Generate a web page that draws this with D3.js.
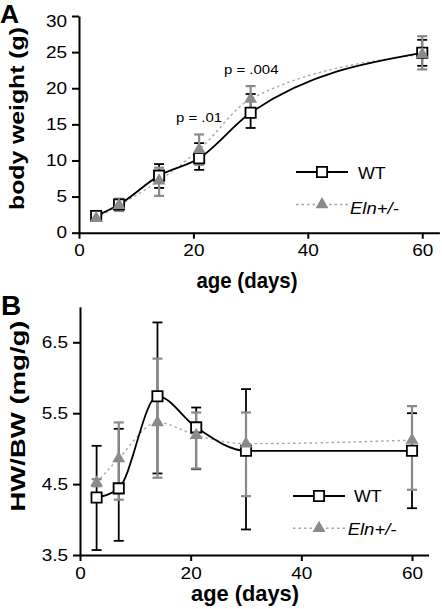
<!DOCTYPE html>
<html><head><meta charset="utf-8">
<script src="https://cdn.jsdelivr.net/npm/d3@7"></script>
<style>body{margin:0;background:#fff}svg{display:block}</style>
</head><body>
<svg id="c" width="442" height="609"></svg>
<script>
// ---------- data ----------
const days = [3, 7, 14, 21, 30, 60];
const xTicks = [0, 20, 40, 60];

const bwWT     = [2.3, 3.9, 7.9, 10.3, 16.6, 24.9];
const bwWTLo   = [2.0, 3.5, 6.2, 8.7, 14.5, 23.1];
const bwWTHi   = [2.6, 4.3, 9.5, 12.4, 19.2, 26.7];
const bwEln    = [2.0, 3.8, 7.2, 11.5, 18.5, 24.7];
const bwElnLo  = [1.7, 3.0, 5.1, 9.4, 16.7, 22.6];
const bwElnHi  = [2.4, 4.7, 9.0, 13.6, 20.3, 27.2];
const bwTicks  = [0, 5, 10, 15, 20, 25, 30];

const hwWT     = [4.31, 4.44, 5.74, 5.30, 4.97, 4.97];
const hwWTLo   = [3.57, 3.70, 4.65, 4.71, 3.86, 4.16];
const hwWTHi   = [5.04, 5.28, 6.78, 5.58, 5.84, 5.50];
const hwEln    = [4.52, 4.86, 5.37, 5.19, 5.07, 5.12];
const hwElnLo  = [4.47, 4.28, 4.59, 4.72, 4.33, 4.42];
const hwElnHi  = [4.57, 5.37, 6.27, 5.51, 5.51, 5.60];
const hwTicks  = [3.5, 4.5, 5.5, 6.5];

const seriesNames = ["WT", "Eln+/-"];
const pLabels = [{text: "p = .01"}, {text: "p = .004"}];

// ---------- style ----------
const FONT = "Liberation Sans, Arial, Helvetica, sans-serif";
const GREY = "#8a8a8a";
const svg = d3.select("#c");

function stretch(sel, f) {
  sel.each(function () {
    const l = this.getComputedTextLength();
    d3.select(this).attr("textLength", l * f).attr("lengthAdjust", "spacingAndGlyphs");
  });
}

function panel(cfg) {
  const x = d3.scaleLinear().domain([0, 63]).range(cfg.xr);
  const y = d3.scaleLinear().domain(cfg.yd).range(cfg.yr);
  const g = svg.append("g");

  // axes
  const xa = g.append("g").attr("transform", `translate(0,${cfg.yr[0]})`)
    .call(d3.axisBottom(x).tickValues(xTicks).tickSize(6).tickSizeOuter(0).tickPadding(6));
  const ya = g.append("g").attr("transform", `translate(${cfg.xr[0]},0)`)
    .call(d3.axisLeft(y).tickValues(cfg.yt).tickFormat(cfg.yf).tickSize(7).tickSizeOuter(0).tickPadding(5));
  [xa, ya].forEach(a => {
    a.attr("font-family", FONT).attr("font-size", 16.5);
    a.selectAll("path,line").attr("stroke", "#000").attr("stroke-width", 2);
    a.selectAll("text").attr("fill", "#000");
  });
  stretch(xa.selectAll("text"), 1.15);
  stretch(ya.selectAll("text"), 1.15);
  cfg.tickAdjust && cfg.tickAdjust(xa, ya);

  // lines
  const line = vals => d3.line().x((d, i) => x(days[i])).y(d => y(d)).curve(d3.curveMonotoneX)(vals);
  g.append("path").attr("d", line(cfg.eln)).attr("fill", "none")
    .attr("stroke", "#a8a8a8").attr("stroke-width", 1.4).attr("stroke-dasharray", "2.5,3");
  g.append("path").attr("d", line(cfg.wt)).attr("fill", "none")
    .attr("stroke", "#000").attr("stroke-width", 1.8);

  // error bars
  function errs(lo, hi, color, w) {
    const eg = g.append("g").attr("stroke", color).attr("stroke-width", w);
    days.forEach((d, i) => {
      const cx = x(d);
      eg.append("line").attr("x1", cx).attr("x2", cx).attr("y1", y(lo[i])).attr("y2", y(hi[i]));
      [lo[i], hi[i]].forEach(v => eg.append("line")
        .attr("x1", cx - 5).attr("x2", cx + 5).attr("y1", y(v)).attr("y2", y(v)));
    });
  }
  errs(cfg.wtLo, cfg.wtHi, "#000", 1.8);
  errs(cfg.elnLo, cfg.elnHi, GREY, 2.2);

  // markers
  const sq = d3.symbol().type(d3.symbolSquare).size(105);
  const tri = d3.symbol().type(d3.symbolTriangle).size(72);
  g.selectAll(".sq").data(cfg.wt).enter().append("path")
    .attr("d", sq).attr("transform", (d, i) => `translate(${x(days[i])},${y(d)})`)
    .attr("fill", "#fff").attr("stroke", "#000").attr("stroke-width", 1.8);
  g.selectAll(".tri").data(cfg.eln).enter().append("path")
    .attr("d", tri).attr("transform", (d, i) => `translate(${x(days[i])},${y(d)})`)
    .attr("fill", GREY);

  // legend
  const L = cfg.leg;
  g.append("line").attr("x1", L.x1).attr("x2", L.x2).attr("y1", L.y1).attr("y2", L.y1)
    .attr("stroke", "#000").attr("stroke-width", 1.8);
  g.append("path").attr("d", sq).attr("transform", `translate(${(L.x1 + L.x2) / 2},${L.y1})`)
    .attr("fill", "#fff").attr("stroke", "#000").attr("stroke-width", 1.8);
  g.append("line").attr("x1", L.x1).attr("x2", L.x2).attr("y1", L.y2).attr("y2", L.y2)
    .attr("stroke", "#a8a8a8").attr("stroke-width", 1.4).attr("stroke-dasharray", "2.5,3");
  g.append("path").attr("d", tri).attr("transform", `translate(${(L.x1 + L.x2) / 2},${L.y2})`)
    .attr("fill", GREY);
  const t1 = g.append("text").attr("x", L.tx1).attr("y", L.b1).text(seriesNames[0])
    .attr("font-family", FONT).attr("font-size", 16.5);
  const t2 = g.append("text").attr("x", L.tx2).attr("y", L.b2).text(seriesNames[1])
    .attr("font-family", FONT).attr("font-size", 16.5).attr("font-style", "italic");
  stretch(t1, 1.08); stretch(t2, 1.12);

  // titles
  g.append("text").attr("x", cfg.xt.x).attr("y", cfg.xt.y).attr("text-anchor", "middle")
    .attr("font-family", FONT).attr("font-weight", "bold").attr("font-size", cfg.xt.fs)
    .attr("textLength", cfg.xt.len).attr("lengthAdjust", "spacingAndGlyphs").text("age (days)");
  g.append("text").attr("transform", `translate(${cfg.yt2.x},${cfg.yt2.y}) rotate(-90)`)
    .attr("text-anchor", "middle")
    .attr("font-family", FONT).attr("font-weight", "bold").attr("font-size", cfg.yt2.fs)
    .attr("textLength", cfg.yt2.len).attr("lengthAdjust", "spacingAndGlyphs").text(cfg.yt2.text);
  g.append("text").attr("x", cfg.pl.x).attr("y", cfg.pl.y).text(cfg.pl.text)
    .attr("font-family", FONT).attr("font-weight", "bold").attr("font-size", cfg.pl.fs);
  return {x, y, g};
}

const A = panel({
  xr: [79, 439.4], yd: [0, 30], yr: [232.7, 16], yt: bwTicks, yf: d3.format("d"),
  wt: bwWT, wtLo: bwWTLo, wtHi: bwWTHi, eln: bwEln, elnLo: bwElnLo, elnHi: bwElnHi,
  leg: {x1: 296, x2: 348, y1: 172, y2: 204.5, tx1: 358, b1: 178.5, tx2: 350, b2: 213.5},
  xt: {x: 247, y: 288, fs: 22, len: 101},
  yt2: {x: 24, y: 118.5, fs: 21, len: 183, text: "body weight (g)"},
  pl: {x: 0, y: 22.5, fs: 26.5, text: "A"},
  tickAdjust: (xa, ya) => {
    ya.selectAll(".tick").filter(d => d === 30).select("text").attr("dy", "0.62em");
  }
});
// p-value annotations
A.g.append("text").attr("x", 176).attr("y", 121.7).text(pLabels[0].text)
  .attr("font-family", FONT).attr("font-size", 13);
A.g.append("text").attr("x", 224).attr("y", 74).text(pLabels[1].text)
  .attr("font-family", FONT).attr("font-size", 13);
stretch(A.g.selectAll("text").filter(function () { return this.textContent.startsWith("p ="); }), 1.15);

panel({
  xr: [80, 428.6], yd: [3.5, 7.0], yr: [555, 306.85], yt: hwTicks, yf: d3.format(".1f"),
  wt: hwWT, wtLo: hwWTLo, wtHi: hwWTHi, eln: hwEln, elnLo: hwElnLo, elnHi: hwElnHi,
  leg: {x1: 293, x2: 345, y1: 496, y2: 528.3, tx1: 354, b1: 501.7, tx2: 347.7, b2: 535},
  xt: {x: 245, y: 601, fs: 21.5, len: 108},
  yt2: {x: 24.5, y: 416, fs: 20, len: 191, text: "HW/BW (mg/g)"},
  pl: {x: 1, y: 315, fs: 28, text: "B"}
});
</script>
</body></html>
